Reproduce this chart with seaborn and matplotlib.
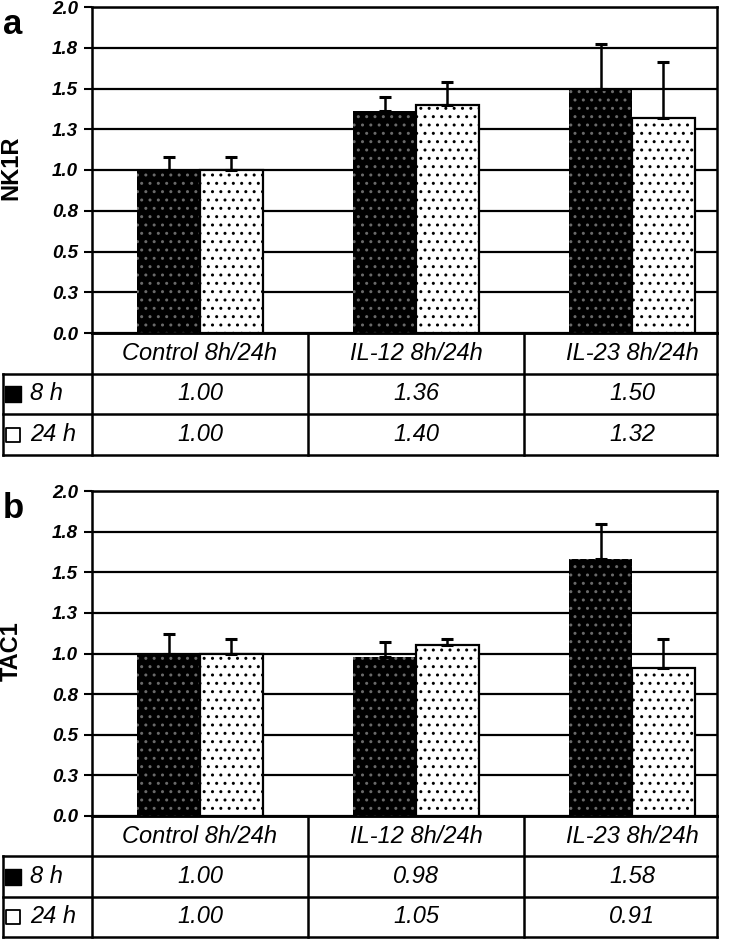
import numpy as np
import pandas as pd
import matplotlib
matplotlib.use("Agg")
import matplotlib.pyplot as plt
import seaborn as sns

# data
groups = ["Control 8h/24h", "IL-12 8h/24h", "IL-23 8h/24h"]
times = ["8 h", "24 h"]
nk1r_8h = [1.00, 1.36, 1.50]
nk1r_24h = [1.00, 1.40, 1.32]
nk1r_err_8h = [0.08, 0.09, 0.27]
nk1r_err_24h = [0.08, 0.14, 0.34]
tac1_8h = [1.00, 0.98, 1.58]
tac1_24h = [1.00, 1.05, 0.91]
tac1_err_8h = [0.12, 0.09, 0.22]
tac1_err_24h = [0.09, 0.04, 0.18]
yticks = [0.0, 0.25, 0.5, 0.75, 1.0, 1.25, 1.5, 1.75, 2.0]
ytick_labels = ["0.0", "0.3", "0.5", "0.8", "1.0", "1.3", "1.5", "1.8", "2.0"]

sns.set_theme(style="white")
plt.rcParams["font.family"] = ["Liberation Sans", "DejaVu Sans"]
plt.rcParams["hatch.linewidth"] = 1.0
plt.rcParams["text.color"] = "black"
plt.rcParams["axes.labelcolor"] = "black"
plt.rcParams["ytick.color"] = "black"

W, H = 742, 939
fig = plt.figure(figsize=(W / 100, H / 100), dpi=100)

X_LEFT = -0.5
X_RIGHT = 2.394
TABLE_LEFT = -0.912


def px_axes(x0, y0, x1, y1):
    # pixel box (top-left origin) -> figure axes
    return fig.add_axes([x0 / W, 1 - y1 / H, (x1 - x0) / W, (y1 - y0) / H])


def draw_panel(top, bottom, table_bottom, letter, ylabel, v8, v24, e8, e24):
    ax = px_axes(92, top, 717, bottom)
    df = pd.DataFrame({
        "group": groups * 2,
        "time": [times[0]] * 3 + [times[1]] * 3,
        "value": v8 + v24,
    })
    err = {(g, times[0]): e for g, e in zip(groups, e8)}
    err.update({(g, times[1]): e for g, e in zip(groups, e24)})

    sns.barplot(data=df, x="group", y="value", hue="time", order=groups,
                hue_order=times, palette=["black", "white"], width=0.58,
                errorbar=None, legend=False, edgecolor="black",
                linewidth=1.6, ax=ax, zorder=3)

    # dotted fills
    bars = sorted(ax.patches, key=lambda p: p.get_x())
    for p in bars:
        fc = p.get_facecolor()
        if fc[0] < 0.5:
            p.set_hatch("..")
            p.set_edgecolor("#6a6a6a")
            p.set_linewidth(0)
        else:
            p.set_hatch("..")
            p.set_edgecolor("black")
            p.set_linewidth(1.6)

    # upper error bars
    keys = [(g, t) for g in groups for t in times]
    xs = [p.get_x() + p.get_width() / 2 for p in bars]
    ys = [p.get_height() for p in bars]
    es = [err[k] for k in keys]
    ax.errorbar(xs, ys, yerr=[np.zeros(len(es)), es], fmt="none",
                ecolor="black", elinewidth=1.8, capsize=4.5, capthick=2.2,
                zorder=4)

    ax.set_xlim(X_LEFT, X_RIGHT)
    ax.set_ylim(0, 2.0)
    ax.set_yticks(yticks)
    ax.set_yticklabels(ytick_labels, fontsize=13.5, fontweight="bold",
                       fontstyle="italic")
    ax.set_xticks([])
    ax.set_xlabel("")
    ax.set_ylabel("")
    ax.tick_params(axis="y", left=True, length=6, width=1.5, pad=4,
                   colors="black")
    ax.grid(axis="y", color="black", linewidth=1.6, zorder=0)
    for s in ax.spines.values():
        s.set_color("black")
        s.set_linewidth(1.8)

    fig.text(11 / W, 1 - ((top + bottom) / 2 - 2) / H, ylabel, fontsize=17,
             fontweight="bold", rotation=90, ha="center", va="center")
    fig.text(3 / W, 1 - (top + 18) / H, letter, fontsize=25,
             fontweight="bold", va="center", ha="left")

    # data table under the chart
    tax = px_axes(3, bottom, 717, table_bottom)
    tax.set_xlim(TABLE_LEFT, X_RIGHT)
    tax.set_ylim(3, 0)
    tax.axis("off")
    lw = 1.8
    kw = dict(color="black", linewidth=lw, clip_on=False,
              solid_capstyle="projecting")
    tax.plot([X_LEFT, X_RIGHT], [0, 0], **kw)
    for r in [1, 2, 3]:
        tax.plot([TABLE_LEFT, X_RIGHT], [r, r], **kw)
    tax.plot([TABLE_LEFT, TABLE_LEFT], [1, 3], **kw)
    for xv in [X_LEFT, 0.5, 1.5, X_RIGHT]:
        tax.plot([xv, xv], [0, 3], **kw)

    tfont = dict(fontsize=17, fontstyle="italic", ha="center",
                 va="center", color="black")
    for i, g in enumerate(groups):
        tax.text(i, 0.5, g, **tfont)
        tax.text(i, 1.5, f"{v8[i]:.2f}", **tfont)
        tax.text(i, 2.5, f"{v24[i]:.2f}", **tfont)

    key_x = TABLE_LEFT + 0.045
    tax.scatter([key_x], [1.5], marker="s", s=120, color="black",
                clip_on=False)
    tax.scatter([key_x], [2.5], marker="s", s=100, facecolor="white",
                edgecolor="black", linewidth=1.3, clip_on=False)
    for r, t in zip([1.5, 2.5], times):
        tax.text(TABLE_LEFT + 0.125, r, t, fontsize=17, fontstyle="italic",
                 ha="left", va="center", color="black")


draw_panel(7, 333, 455, "a", "NK1R", nk1r_8h, nk1r_24h,
           nk1r_err_8h, nk1r_err_24h)
draw_panel(491, 816, 937, "b", "TAC1", tac1_8h, tac1_24h,
           tac1_err_8h, tac1_err_24h)

fig.savefig("out.png", dpi=100, facecolor="white")
